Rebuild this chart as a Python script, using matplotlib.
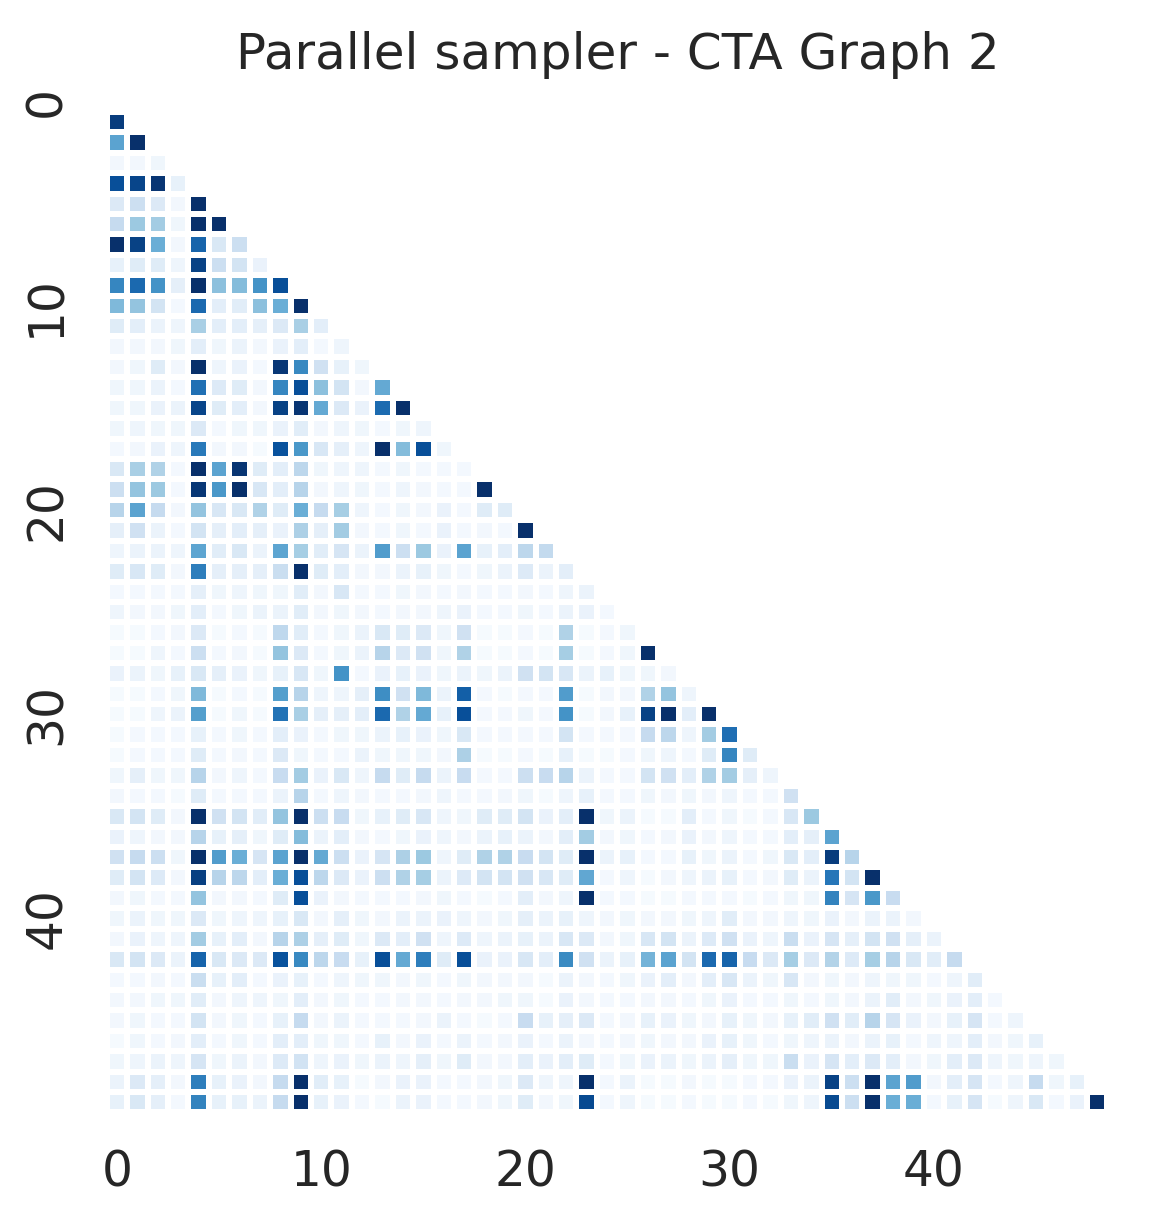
import numpy as np
import matplotlib
matplotlib.use("Agg")
import matplotlib.pyplot as plt
import seaborn as sns

# Lower-triangle values (row i holds columns 0..i-1), scale 0-100
tri_rows = [
    [],
    [95],
    [55, 100],
    [3, 3, 4],
    [88, 92, 98, 8],
    [14, 22, 14, 3, 100],
    [25, 38, 36, 4, 100, 100],
    [100, 93, 50, 3, 80, 15, 22],
    [8, 12, 12, 5, 93, 22, 18, 7],
    [67, 78, 62, 9, 100, 42, 44, 62, 88],
    [45, 40, 18, 2, 78, 10, 11, 42, 50, 100],
    [12, 10, 6, 5, 34, 10, 10, 9, 14, 34, 10],
    [3, 3, 3, 4, 10, 4, 6, 3, 7, 10, 2, 5],
    [3, 4, 12, 3, 100, 5, 7, 2, 97, 66, 20, 8, 4],
    [4, 4, 6, 2, 75, 13, 12, 3, 67, 88, 42, 18, 3, 52],
    [4, 4, 7, 6, 92, 12, 10, 3, 93, 98, 52, 14, 7, 77, 100],
    [4, 5, 4, 4, 14, 2, 4, 4, 7, 11, 3, 5, 4, 2, 4, 5],
    [2, 3, 7, 5, 72, 3, 3, 1, 87, 60, 16, 9, 5, 100, 44, 88,
     4],
    [15, 34, 32, 2, 100, 55, 98, 12, 10, 28, 4, 5, 5, 2, 4, 2,
     2, 2],
    [22, 40, 38, 2, 97, 60, 100, 16, 10, 30, 3, 5, 4, 2, 5, 3,
     2, 2, 100],
    [30, 55, 25, 3, 40, 16, 15, 32, 12, 50, 25, 35, 5, 2, 4, 3,
     7, 2, 12, 12],
    [9, 20, 6, 2, 18, 9, 10, 9, 7, 33, 9, 36, 3, 2, 4, 2,
     7, 2, 3, 2, 100],
    [5, 6, 6, 5, 54, 11, 15, 6, 54, 35, 11, 17, 6, 58, 22, 38,
     7, 55, 8, 10, 28, 26],
    [12, 16, 12, 3, 70, 9, 9, 9, 23, 100, 12, 10, 3, 3, 6, 8,
     4, 2, 4, 6, 13, 6, 10],
    [2, 2, 2, 2, 9, 4, 5, 4, 4, 11, 3, 16, 2, 2, 4, 3,
     2, 3, 2, 2, 3, 2, 5, 6],
    [5, 3, 3, 4, 10, 2, 4, 6, 6, 11, 3, 4, 3, 2, 3, 3,
     5, 7, 2, 2, 4, 2, 6, 7, 2],
    [1, 1, 2, 3, 14, 1, 2, 1, 27, 11, 2, 4, 6, 15, 12, 14,
     4, 20, 1, 1, 2, 1, 32, 1, 2, 4],
    [1, 1, 5, 2, 22, 2, 3, 1, 40, 14, 2, 4, 6, 30, 14, 20,
     4, 32, 1, 1, 2, 1, 35, 1, 2, 4, 100],
    [7, 6, 4, 8, 15, 9, 7, 4, 8, 16, 4, 62, 2, 7, 8, 7,
     4, 6, 4, 6, 20, 18, 16, 6, 8, 4, 4, 3],
    [1, 1, 2, 4, 45, 1, 2, 1, 57, 30, 5, 5, 9, 64, 20, 45,
     6, 82, 2, 1, 2, 2, 58, 1, 3, 3, 32, 40, 5],
    [1, 1, 5, 6, 57, 1, 4, 1, 74, 34, 9, 9, 10, 78, 32, 52,
     8, 88, 2, 2, 4, 2, 62, 1, 3, 8, 93, 100, 10, 100],
    [1, 2, 2, 2, 8, 2, 4, 2, 10, 7, 2, 4, 4, 6, 8, 7,
     4, 15, 2, 2, 2, 2, 18, 2, 2, 2, 25, 28, 5, 36, 76],
    [1, 2, 2, 2, 12, 2, 3, 2, 14, 4, 2, 2, 6, 4, 4, 4,
     3, 33, 1, 1, 2, 1, 8, 1, 1, 2, 4, 5, 2, 12, 67, 12],
    [4, 9, 4, 4, 30, 3, 5, 2, 24, 36, 7, 15, 5, 25, 12, 25,
     6, 24, 2, 2, 22, 24, 30, 6, 2, 2, 18, 20, 10, 32, 36, 9,
     5],
    [3, 2, 2, 1, 12, 2, 2, 2, 6, 30, 2, 5, 3, 2, 2, 3,
     5, 2, 2, 3, 4, 1, 5, 8, 2, 2, 4, 3, 4, 3, 5, 2,
     2, 20],
    [15, 18, 12, 3, 100, 20, 18, 11, 40, 100, 22, 24, 4, 8, 12, 16,
     5, 4, 12, 12, 18, 7, 10, 100, 4, 6, 1, 1, 10, 2, 4, 1,
     2, 16, 38],
    [7, 5, 3, 3, 30, 8, 9, 4, 12, 44, 6, 10, 3, 2, 4, 7,
     5, 3, 6, 8, 6, 3, 10, 36, 3, 4, 2, 3, 7, 3, 5, 2,
     2, 10, 9, 55],
    [20, 25, 22, 4, 100, 58, 50, 17, 55, 100, 52, 22, 7, 17, 33, 38,
     5, 12, 32, 32, 24, 18, 12, 100, 6, 8, 2, 2, 8, 4, 6, 2,
     4, 15, 10, 95, 30],
    [12, 18, 13, 3, 94, 30, 28, 10, 50, 88, 28, 14, 7, 22, 32, 35,
     6, 13, 18, 18, 20, 16, 12, 53, 2, 5, 1, 3, 5, 6, 8, 2,
     3, 12, 6, 73, 18, 100],
    [3, 4, 2, 2, 40, 3, 3, 2, 12, 88, 7, 3, 2, 2, 2, 3,
     4, 2, 1, 2, 10, 3, 5, 100, 2, 2, 1, 1, 2, 2, 2, 1,
     2, 4, 4, 68, 17, 60, 24],
    [4, 6, 4, 4, 14, 4, 5, 5, 8, 15, 3, 9, 4, 3, 6, 6,
     7, 5, 3, 4, 9, 6, 8, 5, 3, 4, 3, 3, 4, 5, 11, 3,
     3, 5, 4, 7, 3, 6, 6, 3],
    [3, 7, 5, 5, 36, 8, 10, 3, 30, 33, 9, 12, 4, 14, 10, 20,
     5, 13, 5, 6, 8, 6, 16, 14, 3, 4, 16, 18, 6, 13, 20, 7,
     5, 23, 7, 17, 9, 18, 20, 9, 6],
    [15, 18, 14, 6, 80, 15, 14, 14, 87, 66, 28, 24, 8, 88, 52, 70,
     12, 88, 7, 7, 16, 10, 65, 20, 6, 8, 48, 55, 18, 78, 80, 24,
     14, 35, 14, 31, 13, 35, 30, 15, 11, 25],
    [2, 2, 3, 2, 23, 8, 10, 2, 7, 8, 2, 5, 4, 4, 3, 4,
     2, 4, 3, 3, 3, 1, 6, 3, 2, 4, 7, 10, 3, 10, 16, 6,
     4, 16, 3, 4, 3, 5, 4, 4, 2, 5, 11],
    [3, 3, 4, 4, 11, 3, 5, 5, 4, 10, 3, 4, 2, 2, 3, 3,
     2, 3, 3, 4, 4, 1, 7, 3, 2, 2, 3, 3, 2, 4, 7, 2,
     2, 4, 2, 4, 3, 6, 11, 3, 4, 7, 10, 2],
    [3, 4, 2, 2, 18, 3, 4, 2, 8, 25, 3, 6, 2, 2, 2, 3,
     6, 2, 1, 2, 24, 8, 9, 14, 2, 3, 8, 7, 4, 3, 8, 4,
     3, 8, 11, 20, 11, 30, 17, 7, 3, 8, 17, 2, 5],
    [1, 4, 2, 3, 10, 2, 4, 2, 10, 10, 4, 4, 2, 8, 3, 7,
     2, 6, 2, 3, 7, 2, 6, 3, 2, 3, 4, 3, 3, 7, 8, 4,
     2, 4, 5, 6, 3, 6, 8, 2, 5, 5, 10, 3, 4, 8],
    [4, 5, 6, 5, 17, 4, 6, 3, 13, 19, 5, 7, 4, 6, 5, 9,
     4, 12, 3, 3, 10, 7, 10, 12, 2, 4, 7, 6, 4, 6, 9, 4,
     4, 23, 7, 17, 10, 14, 10, 3, 4, 10, 14, 5, 4, 5, 4],
    [6, 14, 9, 3, 70, 8, 7, 3, 25, 100, 11, 8, 1, 3, 7, 7,
     2, 2, 3, 4, 14, 5, 5, 100, 2, 6, 1, 1, 3, 1, 1, 2,
     2, 7, 6, 93, 22, 100, 55, 58, 3, 10, 17, 2, 5, 25, 4, 8],
    [8, 15, 9, 2, 68, 8, 8, 6, 25, 100, 8, 7, 2, 1, 6, 7,
     2, 2, 3, 4, 12, 3, 4, 90, 2, 5, 1, 1, 2, 1, 1, 2,
     1, 4, 5, 90, 22, 100, 50, 50, 2, 8, 17, 1, 5, 15, 2, 7, 100],
]

n = len(tri_rows)
tick_labels = [0, 10, 20, 30, 40]
title = "Parallel sampler - CTA Graph 2"

mat = np.zeros((n, n))
for i, row in enumerate(tri_rows):
    for j, v in enumerate(row):
        mat[i, j] = v / 100.0
mask = np.triu(np.ones((n, n), dtype=bool))

sns.set_theme(style="white")
fig = plt.figure(figsize=(5.79, 6.105), dpi=200)
ax = fig.add_axes([0.0922, 0.0889, 0.974 - 0.0922, 0.9251 - 0.0889])
sns.heatmap(mat, mask=mask, cmap="Blues", vmin=0, vmax=1, cbar=False,
            linewidths=2, linecolor="white", ax=ax,
            xticklabels=False, yticklabels=False)
ax.set_xticks(np.array(tick_labels) + 0.5)
ax.set_xticklabels([str(t) for t in tick_labels], rotation=0, fontsize=17.5, color="#262626")
ax.set_yticks(np.array(tick_labels) + 0.5)
ax.set_yticklabels([str(t) for t in tick_labels], rotation=90, va="center", fontsize=17.5, color="#262626")
ax.tick_params(length=0, pad=13)
ax.set_title(title, fontsize=18, color="#262626", pad=8)
fig.savefig("out.png", dpi=200)
